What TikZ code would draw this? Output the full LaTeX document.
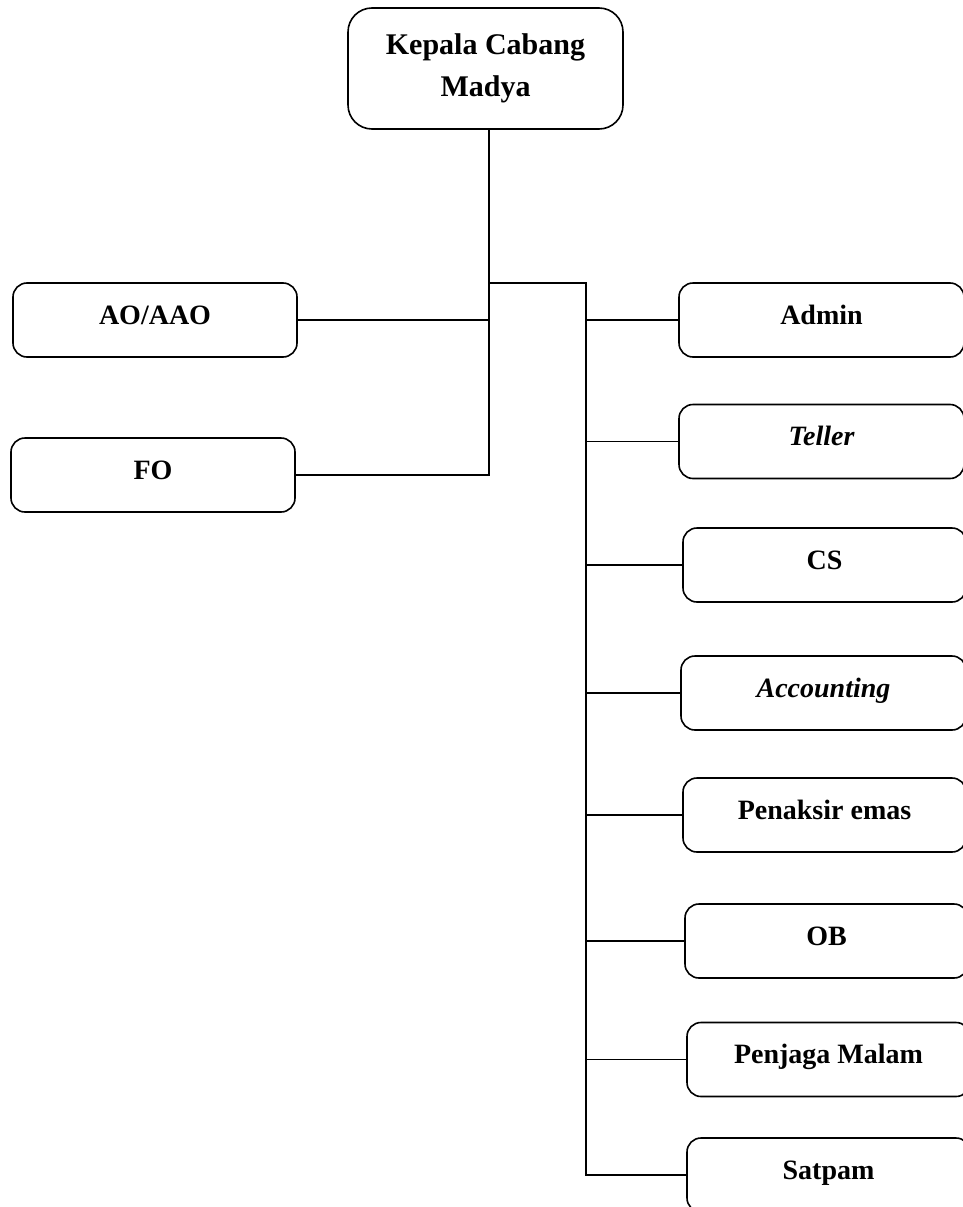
\documentclass[tikz,border=0pt]{standalone}
\usepackage{fontspec}
\setmainfont{Liberation Serif}
\usepackage{tikz}
\usetikzlibrary{positioning, calc}

\begin{document}
\begin{tikzpicture}[
  x=1pt, y=-1pt,
  every node/.style={font=\fontsize{28}{40}\selectfont\bfseries},
  frame/.style={draw, line width=1.6pt, align=center, inner sep=0pt},
  box/.style={frame, rounded corners=14pt, minimum width=284pt,
              minimum height=74pt, text height=19pt, text depth=11pt},
  link/.style={draw, line width=1.6pt},
]
  \useasboundingbox (0,0) rectangle (963,1207);
  \clip (0,0) rectangle (963,1207);

  % Head of branch
  \node[frame, rounded corners=24pt, minimum width=275pt, minimum height=121pt,
        font=\fontsize{30}{42}\selectfont\bfseries]
    (kcm) at (485.5,68.5) {Kepala Cabang\\Madya};

  % Left column
  \node[box] (ao) at (155,320) {AO/AAO};
  \node[box] (fo) at (153,475) {FO};

  % Right column (cut off by the page edge)
  \node[box, minimum width=285pt] (admin)  at (821.5,320)   {Admin};
  \node[box, minimum width=285pt] (teller) at (821.5,441.5) {\itshape Teller};
  \node[box, minimum width=283pt] (cs)     at (824.5,565)   {CS};
  \node[box, minimum width=285pt] (acc)    at (823.5,693)   {\itshape Accounting};
  \node[box, minimum width=283pt] (pen)    at (824.5,815)   {Penaksir emas};
  \node[box, minimum width=283pt] (ob)     at (826.5,941)   {OB};
  \node[box, minimum width=283pt] (pm)     at (828.5,1059.5) {Penjaga Malam};
  \node[box, minimum width=283pt] (sat)    at (828.5,1175)  {Satpam};

  % Connectors
  \coordinate (hub) at (489,283);
  \coordinate (bus) at (586,283);
  \draw[link] (kcm.south -| hub) -- (hub |- fo.east) -- (fo.east);
  \draw[link] (ao.east) -- (ao.east -| hub);
  \draw[link] (hub) -- (bus) -- (bus |- sat.west) -- (sat.west);
  \foreach \n in {admin, teller, cs, acc, pen, ob, pm}
    \draw[link] (bus |- \n.west) -- (\n.west);
\end{tikzpicture}
\end{document}
